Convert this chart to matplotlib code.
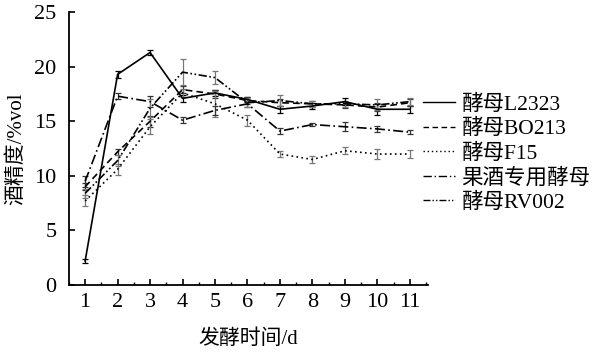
import matplotlib
matplotlib.use("Agg")
import matplotlib.pyplot as plt
from matplotlib.ticker import MultipleLocator
from matplotlib.lines import Line2D

plt.rcParams['font.family'] = ['Liberation Serif', 'Noto Sans CJK SC']

days = [1, 2, 3, 4, 5, 6, 7, 8, 9, 10, 11]
names = ["酵母L2323", "酵母BO213", "酵母F15", "果酒专用酵母", "酵母RV002"]

l2323 = [2.2, 19.3, 21.3, 17.1, 17.6, 17.0, 16.1, 16.4, 16.8, 16.1, 16.1]
bo213 = [9.0, 12.2, 15.0, 17.9, 17.5, 16.9, 16.7, 16.6, 16.5, 16.3, 16.7]
f15 = [7.7, 10.6, 14.5, 17.6, 16.6, 15.1, 12.0, 11.5, 12.3, 12.0, 12.0]
guojiu = [9.5, 17.3, 16.8, 15.1, 16.0, 16.6, 14.1, 14.7, 14.5, 14.3, 14.0]
rv002 = [8.4, 11.4, 16.2, 19.5, 19.0, 16.7, 16.9, 16.6, 16.6, 16.5, 16.8]

err_l2323 = [0.2, 0.3, 0.2, 0.3, 0.3, 0.2, 0.3, 0.3, 0.3, 0.5, 0.3]
err_bo213 = [0.3, 0.3, 0.5, 0.3, 0.4, 0.3, 0.3, 0.3, 0.3, 0.4, 0.3]
err_f15 = [0.5, 0.5, 0.7, 0.4, 1.2, 0.5, 0.3, 0.3, 0.3, 0.5, 0.4]
err_guojiu = [0.5, 0.3, 0.5, 0.3, 0.4, 0.3, 0.3, 0.1, 0.4, 0.3, 0.2]
err_rv002 = [0.4, 0.5, 0.8, 1.2, 0.6, 0.4, 0.5, 0.3, 0.3, 0.5, 0.3]

series = [l2323, bo213, f15, guojiu, rv002]
errs = [err_l2323, err_bo213, err_f15, err_guojiu, err_rv002]
styles = ['-', (0, (4, 2.5)), (0, (1, 2)), (0, (6, 2, 1, 2)), (0, (5, 1.5, 1, 1.5, 1, 1.5))]
ecolors = ['black', '#333333', '#777777', '#333333', '#777777']

fig = plt.figure(figsize=(5.94, 3.57), dpi=100)
ax = fig.add_axes([0.116, 0.2017, 0.604, 0.7643])

for y, e, ls, ec, nm in zip(series, errs, styles, ecolors, names):
    ax.errorbar(days, y, yerr=e, color='black', linestyle=ls, linewidth=1.2,
                ecolor=ec, elinewidth=0.9, capsize=2.5, capthick=0.9, label=nm)

ax.set_xlim(0.5, 11.55)
ax.set_ylim(0, 25)
ax.xaxis.set_major_locator(MultipleLocator(1))
ax.xaxis.set_minor_locator(MultipleLocator(0.5))
ax.yaxis.set_major_locator(MultipleLocator(5))
ax.spines['top'].set_visible(False)
ax.spines['right'].set_visible(False)
for s in ['left', 'bottom']:
    ax.spines[s].set_linewidth(1.3)
ax.tick_params(axis='both', which='major', direction='in', length=4, width=1.2,
               labelsize=16)
ax.tick_params(axis='x', which='major', pad=6)
ax.tick_params(axis='x', which='minor', direction='in', length=2.5, width=1.0)
ax.tick_params(axis='y', which='major', pad=9)

ax.set_xlabel("发酵时间/d", fontsize=15, labelpad=12)
ax.set_ylabel("酒精度/%vol", fontsize=15, labelpad=6)

lh = [Line2D([0], [0], color='black', linestyle=ls, linewidth=1.0) for ls in styles]
fig.legend(lh, names, loc='upper left', bbox_to_anchor=(0.712, 0.735),
           frameon=False, fontsize=15.5, handlelength=1.5, handletextpad=0.3,
           labelspacing=0.2, borderaxespad=0, borderpad=0)

fig.savefig("out.png", dpi=100)
